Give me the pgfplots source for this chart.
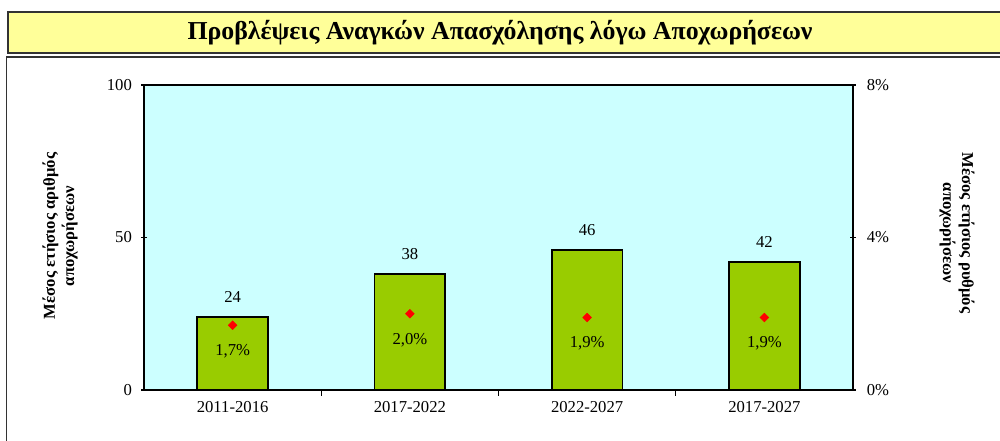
\documentclass[border=0pt]{standalone}
\usepackage{fontspec}
\setmainfont{Liberation Serif}
\usepackage{pgfplots}
\pgfplotsset{compat=1.18}
\definecolor{barg}{HTML}{99CC00}
\definecolor{bgc}{HTML}{CCFFFF}
\definecolor{titley}{HTML}{FFFF99}
\pgfplotsset{/pgf/number format/assume math mode=true}
\begin{document}
\begin{tikzpicture}
\begin{scope}[x=0.6pt,y=0.6pt]
\useasboundingbox (0,0) rectangle (1000,441);
\begin{scope}
\clip (0,0) rectangle (1000,441);
\draw[line width=1.2pt, black!80, fill=titley] (8,428.5) rectangle (1010,388);
\draw[line width=1pt, black!80] (6.5,-10) -- (6.5,384) -- (1010,384);
\end{scope}
\node[font=\bfseries\fontsize{15.5}{17}\selectfont] at (500,408) {Προβλέψεις Αναγκών Απασχόλησης λόγω Αποχωρήσεων};
\node[font=\bfseries\fontsize{10}{11.5}\selectfont, rotate=90, align=center] at (60,205) {Μέσος ετήσιος αριθμός\\αποχωρήσεων};
\node[font=\bfseries\fontsize{10}{11.5}\selectfont, rotate=-90, align=center] at (957,208) {Μέσος ετήσιος ρυθμός\\αποχωρήσεων};
\end{scope}
\begin{axis}[
  at={(86.4pt,30.6pt)}, anchor=south west, scale only axis,
  width=425.4pt, height=183pt,
  xmin=-0.5, xmax=3.5, ymin=0, ymax=100,
  axis background/.style={fill=bgc},
  axis line style={line width=1.1pt, black},
  ytick={0,50,100}, ytick pos=left,
  yticklabel style={xshift=-2pt},
  xtick={0,1,2,3},
  xticklabels={2011-2016,2017-2022,2022-2027,2017-2027},
  xtick pos=bottom,
  minor xtick={0.5,1.5,2.5},
  major x tick style={draw=none},
  tick align=center, major tick length=3.5pt, minor tick length=3.5pt,
  tick style={line width=0.8pt, black},
  ticklabel style={font=\fontsize{10}{12}\selectfont},
  ybar, bar width=0.4,
  nodes near coords,
  every node near coord/.append style={font=\fontsize{10}{12}\selectfont, anchor=center, yshift=12pt},
]
\addplot[fill=barg, draw=black, line width=1.1pt] coordinates {(0,24) (1,38) (2,46) (3,42)};
\end{axis}
\begin{axis}[
  at={(86.4pt,30.6pt)}, anchor=south west, scale only axis,
  width=425.4pt, height=183pt,
  xmin=-0.5, xmax=3.5, ymin=0, ymax=8,
  axis x line=none, axis y line*=right,
  axis line style={line width=1.1pt, black, -},
  ytick={0,4,8}, yticklabels={0\%,4\%,8\%},
  yticklabel style={xshift=3pt},
  tick align=center, major tick length=3.5pt,
  tick style={line width=0.8pt, black},
  ticklabel style={font=\fontsize{10}{12}\selectfont},
  nodes near coords, point meta=explicit symbolic,
  every node near coord/.append style={font=\fontsize{10}{12}\selectfont, anchor=center, yshift=-15.6pt, text=black},
]
\addplot[only marks, mark=square*, mark size=1.8pt, mark options={rotate=45, fill=red, draw=red}] coordinates {(0,1.7) [1,7\%] (1,2.0) [2,0\%] (2,1.9) [1,9\%] (3,1.9) [1,9\%]};
\end{axis}
\end{tikzpicture}
\end{document}
